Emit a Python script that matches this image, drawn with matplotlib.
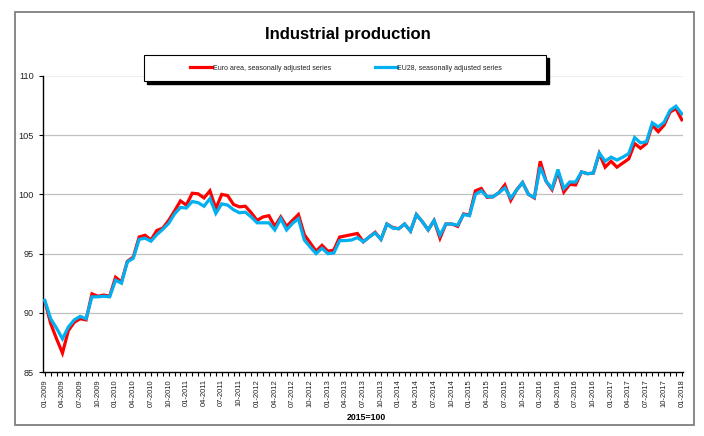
import matplotlib
matplotlib.use("Agg")
import matplotlib.pyplot as plt
from matplotlib.patches import Rectangle
import pandas as pd

months = pd.date_range("2009-01-01", "2018-01-01", freq="MS")
month_labels = [d.strftime("%m-%Y") for d in months]

euro_area = [91.0, 89.1, 87.8, 86.6, 88.5, 89.2, 89.5, 89.4, 91.6, 91.4, 91.5, 91.4,
             93.0, 92.6, 94.35, 94.7, 96.4, 96.55, 96.15, 96.95, 97.15, 97.8, 98.6, 99.45,
             99.1, 100.1, 100.05, 99.7, 100.3, 98.8, 100.0, 99.9, 99.15, 98.95, 99.0, 98.45,
             97.8, 98.1, 98.2, 97.3, 98.1, 97.3, 97.8, 98.3, 96.6, 95.9, 95.2, 95.7,
             95.2, 95.3, 96.4, 96.5, 96.6, 96.7, 96.0, 96.4, 96.8, 96.2, 97.5, 97.2,
             97.1, 97.5, 96.9, 98.3, 97.7, 97.0, 97.8, 96.3, 97.5, 97.5, 97.3, 98.35,
             98.25, 100.3, 100.5, 99.75, 99.8, 100.15, 100.8, 99.5, 100.4, 101.0, 100.0, 99.7,
             102.8, 101.1, 100.4, 101.9, 100.2, 100.85, 100.8, 101.9, 101.75, 101.8, 103.45, 102.3,
             102.8, 102.3, 102.65, 103.0, 104.3, 103.9, 104.3, 105.85, 105.3, 105.85, 106.95, 107.25,
             106.3]

eu28 = [91.05, 89.5, 88.7, 87.8, 88.8, 89.4, 89.7, 89.5, 91.35, 91.35, 91.4, 91.35,
        92.75, 92.5, 94.3, 94.6, 96.2, 96.3, 96.05, 96.6, 97.05, 97.55, 98.35, 98.9,
        98.85, 99.4, 99.3, 99.0, 99.65, 98.4, 99.2, 99.1, 98.7, 98.45, 98.5, 98.1,
        97.6, 97.6, 97.6, 97.0, 97.95, 97.0, 97.55, 97.95, 96.15, 95.55, 95.0, 95.45,
        95.0, 95.05, 96.1, 96.1, 96.15, 96.35, 96.0, 96.4, 96.75, 96.2, 97.5, 97.15,
        97.1, 97.5, 96.9, 98.3, 97.7, 97.0, 97.8, 96.55, 97.5, 97.5, 97.4, 98.3,
        98.2, 100.0, 100.3, 99.8, 99.8, 100.15, 100.55, 99.7, 100.35, 101.0, 100.0, 99.75,
        102.3, 101.1, 100.5, 102.1, 100.5, 101.05, 101.05, 101.9, 101.75, 101.8, 103.5, 102.8,
        103.15, 102.9, 103.15, 103.45, 104.8, 104.35, 104.45, 106.05, 105.7, 106.1, 107.1, 107.45,
        106.8]

y_ticks = [85, 90, 95, 100, 105, 110]

W, H = 704, 436
plt.rcParams['font.family'] = ['Liberation Sans', 'DejaVu Sans']
fig = plt.figure(figsize=(W / 100, H / 100), dpi=100)

def fx(px):
    return px / W

def fy(py):
    return 1 - py / H

ax = fig.add_axes([fx(43), fy(372), fx(683) - fx(43), fy(76) - fy(372)])

x = list(range(len(months)))
l1, = ax.plot(x, euro_area, color="#ff0000", lw=2.3, solid_joinstyle="miter",
              label="Euro area, seasonally adjusted series", zorder=3)
l2, = ax.plot(x, eu28, color="#00b0f0", lw=2.3, solid_joinstyle="miter",
              label="EU28, seasonally adjusted series", zorder=4)

ax.set_xlim(-0.3, len(months) - 1 + 0.2)
ax.set_ylim(85, 110)
ax.set_yticks(y_ticks)
ax.set_yticklabels([str(v) for v in y_ticks], fontsize=6.6, color="#222222")
for v in y_ticks[1:]:
    ax.axhline(v, color="#f0f0f0" if v == 110 else "#c0c0c0", lw=0.9, zorder=1)

ax.set_xticks(x, minor=True)
ax.set_xticks(x[::3])
ax.set_xticklabels(month_labels[::3], rotation=90, fontsize=5.5, color="#222222")
ax.tick_params(axis="x", which="both", length=3, width=0.8, direction="out", pad=2)
ax.tick_params(axis="y", length=3, width=0.8, direction="out", pad=3.5)

for s in ["top", "right"]:
    ax.spines[s].set_visible(False)
for s in ["left", "bottom"]:
    ax.spines[s].set_linewidth(1.0)
    ax.spines[s].set_color("black")

# title and unit note
fig.text(fx(348), fy(34), "Industrial production", fontsize=12, fontweight="bold",
         ha="center", va="center")
fig.text(fx(366), fy(417), "2015=100", fontsize=6.3, fontweight="bold",
         ha="center", va="center")

# legend box with shadow
bx0, by0, bx1, by1 = 144, 55, 546, 81
fig.patches.append(Rectangle((fx(bx0 + 3), fy(by1 + 3)), fx(bx1) - fx(bx0), fy(by0) - fy(by1),
                             transform=fig.transFigure, facecolor="black", edgecolor="black",
                             zorder=5))
fig.patches.append(Rectangle((fx(bx0), fy(by1)), fx(bx1) - fx(bx0), fy(by0) - fy(by1),
                             transform=fig.transFigure, facecolor="white", edgecolor="black",
                             lw=0.8, zorder=6))
leg = fig.legend(handles=[l1, l2], loc="center", bbox_to_anchor=(fx(346), fy(68)),
                 bbox_transform=fig.transFigure, ncol=2, frameon=False, fontsize=5,
                 handlelength=3.2, handletextpad=0.05, columnspacing=6.3, borderpad=0)
leg.set_zorder(7)
for t in leg.get_texts():
    t.set_color("#222222")

# outer border
fig.patches.append(Rectangle((fx(15), fy(425)), fx(694) - fx(15), fy(12) - fy(425),
                             transform=fig.transFigure, facecolor="none", edgecolor="#7f7f7f",
                             lw=1.3, zorder=0))

fig.savefig("out.png", dpi=100)
